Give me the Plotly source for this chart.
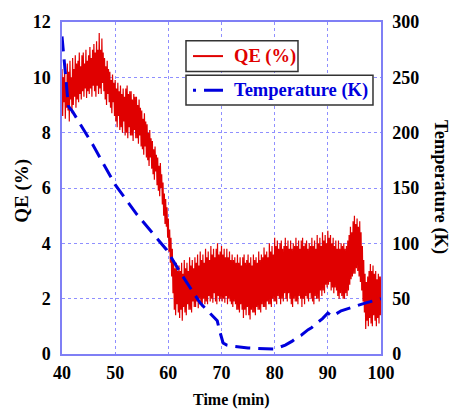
import plotly.graph_objects as go

# ---- data ----
qe_t0 = 40.0
qe_step = 0.125
qe_values = [
    10.3, 8.6, 10.0, 9.1, 10.4, 8.5, 9.8, 8.9,
    10.5, 8.8, 10.2, 8.4, 10.6, 9.2, 10.0, 8.7,
    10.7, 9.0, 10.3, 9.3, 10.8, 8.9, 10.5, 9.2,
    10.6, 9.1, 10.9, 9.4, 10.4, 9.2, 10.8, 9.5,
    10.9, 9.3, 10.5, 9.6, 11.0, 9.25, 10.6, 9.5,
    10.8, 9.4, 11.1, 9.6, 10.7, 9.3, 11.0, 9.7,
    11.2, 9.5, 10.9, 9.3, 11.3, 9.7, 11.0, 9.4,
    11.6, 9.6, 11.0, 9.4, 11.4, 9.8, 10.9, 9.5,
    10.7, 9.2, 10.4, 9.0, 10.6, 9.4, 10.3, 9.1,
    10.2, 8.9, 9.9, 8.7, 10.1, 9.1, 9.8, 8.6,
    9.9, 8.4, 9.6, 8.2, 9.8, 8.6, 9.5, 8.1,
    9.7, 8.2, 9.4, 8.0, 9.6, 8.4, 9.3, 7.9,
    9.6, 8.0, 9.7, 7.8, 9.4, 8.2, 9.5, 7.9,
    9.5, 7.9, 9.2, 7.7, 9.4, 8.1, 9.3, 7.8,
    9.3, 7.8, 9.0, 7.6, 9.2, 7.9, 8.9, 7.5,
    8.8, 7.4, 8.5, 7.2, 8.7, 7.5, 8.4, 7.1,
    8.3, 7.0, 8.0, 6.8, 8.1, 7.1, 7.8, 6.7,
    7.7, 6.5, 7.4, 6.3, 7.5, 6.6, 7.2, 6.1,
    7.1, 5.9, 6.8, 5.7, 6.9, 6.0, 6.5, 5.4,
    6.2, 5.0, 5.8, 4.7, 5.6, 4.6, 5.3, 4.2,
    4.9, 3.7, 4.5, 3.3, 4.2, 2.8, 3.8, 2.2,
    3.4, 1.6, 3.1, 1.4, 3.3, 1.8, 3.0, 1.5,
    3.2, 1.3, 3.0, 1.6, 3.3, 1.2, 2.9, 1.7,
    3.4, 1.5, 3.1, 1.4, 3.3, 1.8, 3.0, 1.6,
    3.5, 1.6, 3.2, 1.5, 3.4, 1.9, 3.1, 1.7,
    3.5, 1.7, 3.3, 1.9, 3.6, 1.65, 3.2, 2.0,
    3.7, 1.8, 3.4, 1.7, 3.6, 2.0, 3.3, 1.8,
    3.8, 1.9, 3.5, 1.8, 3.7, 2.1, 3.4, 1.9,
    3.9, 2.0, 3.6, 1.85, 3.8, 2.2, 3.5, 1.9,
    3.8, 1.8, 4.0, 2.1, 3.6, 1.9, 3.7, 2.0,
    3.9, 1.9, 3.6, 2.0, 3.8, 1.85, 3.5, 2.1,
    3.8, 1.8, 3.5, 2.0, 3.7, 1.9, 3.4, 1.8,
    3.6, 1.7, 3.4, 1.9, 3.5, 1.8, 3.3, 1.6,
    3.6, 1.6, 3.3, 1.5, 3.5, 1.8, 3.2, 1.6,
    3.5, 1.3, 3.6, 1.6, 3.3, 1.4, 3.4, 1.7,
    3.6, 1.4, 3.3, 1.25, 3.5, 1.6, 3.2, 1.5,
    3.6, 1.5, 3.4, 1.4, 3.5, 1.7, 3.3, 1.6,
    3.7, 1.6, 3.4, 1.5, 3.6, 1.8, 3.5, 1.7,
    3.85, 1.7, 3.6, 1.6, 3.7, 1.9, 3.5, 1.8,
    4.0, 1.8, 3.7, 1.7, 3.9, 2.0, 3.6, 1.9,
    4.2, 1.9, 3.9, 1.8, 4.1, 2.1, 3.8, 2.0,
    4.0, 1.8, 4.1, 2.0, 3.8, 1.9, 3.9, 2.2,
    4.2, 2.0, 3.9, 1.9, 4.1, 2.2, 3.8, 2.0,
    4.1, 1.8, 3.8, 1.7, 4.0, 2.0, 3.9, 1.9,
    4.2, 1.9, 3.9, 1.8, 4.1, 2.1, 3.8, 2.0,
    4.1, 1.7, 4.2, 2.0, 3.9, 1.8, 4.0, 2.1,
    4.1, 2.0, 3.8, 1.9, 4.0, 2.2, 3.9, 2.0,
    4.2, 1.9, 3.9, 1.8, 4.1, 2.1, 3.8, 2.0,
    4.3, 2.0, 4.0, 1.9, 4.2, 2.3, 3.9, 2.1,
    4.4, 2.3, 4.1, 2.2, 4.3, 2.5, 4.0, 2.4,
    4.45, 2.5, 4.2, 2.6, 4.3, 2.3, 4.0, 2.4,
    4.2, 2.2, 3.9, 2.4, 4.1, 2.3, 3.8, 2.1,
    4.1, 2.0, 3.8, 2.2, 4.0, 2.1, 3.9, 2.0,
    4.0, 2.0, 3.8, 2.2, 3.9, 2.1, 4.1, 2.3,
    4.3, 2.5, 4.6, 2.7, 4.4, 2.8, 4.8, 2.9,
    5.0, 2.9, 4.7, 3.1, 4.9, 3.0, 4.6, 2.8,
    4.8, 2.6, 4.4, 2.3, 3.9, 1.9, 3.4, 1.5,
    2.9, 0.9, 2.6, 1.2, 2.8, 1.0, 3.0, 1.3,
    3.25, 1.1, 3.0, 1.0, 3.2, 1.4, 2.9, 1.2,
    3.0, 1.0, 2.7, 1.3, 2.9, 1.1, 2.8, 1.4,
    2.8,
]
qe_time = [qe_t0 + i * qe_step for i in range(len(qe_values))]

temp_time = [40, 40.6, 41.2, 42, 45.8, 50, 54.1, 59.7, 62.2, 66, 68.4, 69.2,
             69.7, 70.3, 71, 72, 75, 78, 80, 82, 83.3, 84.5, 85, 86.3, 87,
             88.2, 89, 90, 90.8, 92.5, 95, 97, 100]
temp_values = [287, 255, 224, 219, 189, 153, 126, 94, 74, 46, 34, 30,
               20, 10, 8, 7, 5.4, 4.5, 4.5, 8, 11.6, 16, 17, 22, 24,
               29, 32, 37, 34, 39, 43, 46, 50]

x_ticks = [40, 50, 60, 70, 80, 90, 100]
qe_ticks = [0, 2, 4, 6, 8, 10, 12]
temp_ticks = [0, 50, 100, 150, 200, 250, 300]
series_names = ["QE (%)", "Temperature (K)"]

RED = "#e00000"
BLUE = "#0000dd"
FRAME = "#7f7ff5"
GRID = "#8f8fff"
FONT = "Liberation Serif"

fig = go.Figure()
fig.add_trace(go.Scatter(
    x=qe_time, y=qe_values, mode="lines", name=series_names[0],
    line=dict(color=RED, width=1.2),
))
fig.add_trace(go.Scatter(
    x=temp_time, y=temp_values, mode="lines", name=series_names[1],
    line=dict(color=BLUE, width=3, dash="15px,8px"), yaxis="y2",
))

tickfont = dict(family=FONT, size=18, color="black", weight="bold")

# legend drawn as two separate framed boxes (as in the reference)
legend_shapes = [
    dict(type="rect", xref="paper", yref="paper", x0=0.3887, x1=0.7398, y0=0.8512, y1=0.9435,
         line=dict(color="#333333", width=1.5), fillcolor="white", layer="above"),
    dict(type="line", xref="paper", yref="paper", x0=0.4107, x1=0.5047, y0=0.8973, y1=0.8973,
         line=dict(color=RED, width=2), layer="above"),
    dict(type="rect", xref="paper", yref="paper", x0=0.3887, x1=0.9749, y0=0.75, y1=0.8393,
         line=dict(color="#333333", width=1.5), fillcolor="white", layer="above"),
    dict(type="line", xref="paper", yref="paper", x0=0.4107, x1=0.5047, y0=0.7946, y1=0.7946,
         line=dict(color=BLUE, width=3, dash="3px,8px,20px"), layer="above"),
]

fig.update_layout(
    width=450, height=412,
    margin=dict(l=62, r=69, t=18, b=58),
    paper_bgcolor="white", plot_bgcolor="white",
    showlegend=False,
    xaxis=dict(range=[40, 100], tickvals=x_ticks, ticks="", showline=True, mirror=True,
               linecolor=FRAME, linewidth=1.5, showgrid=True, gridcolor=GRID,
               griddash="dot", gridwidth=1, zeroline=False, tickfont=tickfont,
               ticklabelstandoff=2),
    yaxis=dict(range=[0, 12], tickvals=qe_ticks, ticks="", showline=True, mirror=True,
               linecolor=FRAME, linewidth=1.5, showgrid=True, gridcolor=GRID,
               griddash="dot", gridwidth=1, zeroline=False, tickfont=tickfont,
               ticklabelstandoff=6),
    yaxis2=dict(range=[0, 300], tickvals=temp_ticks, ticks="", overlaying="y", side="right",
                showline=True, linecolor=FRAME, linewidth=1.5, showgrid=False,
                zeroline=False, tickfont=tickfont, ticklabelstandoff=6),
    shapes=legend_shapes,
    annotations=[
        dict(text=series_names[0], xref="paper", yref="paper", x=0.5329, y=0.8973,
             xanchor="left", yanchor="middle", showarrow=False,
             font=dict(family=FONT, size=18.5, color=RED, weight="bold")),
        dict(text=series_names[1], xref="paper", yref="paper", x=0.5329, y=0.7946,
             xanchor="left", yanchor="middle", showarrow=False,
             font=dict(family=FONT, size=18.5, color=BLUE, weight="bold")),
        dict(text="Time (min)", xref="paper", yref="paper", x=0.53, y=-0.14,
             xanchor="center", yanchor="middle", showarrow=False,
             font=dict(family=FONT, size=16, color="black", weight="bold")),
        dict(text="QE (%)", xref="paper", yref="paper", x=-0.126, y=0.491,
             xanchor="center", yanchor="middle", showarrow=False, textangle=-90,
             font=dict(family=FONT, size=19, color="black", weight="bold")),
        dict(text="Temperature (K)", xref="paper", yref="paper", x=1.188, y=0.503,
             xanchor="center", yanchor="middle", showarrow=False, textangle=90,
             font=dict(family=FONT, size=18.5, color="black", weight="bold")),
    ],
)

fig.write_html("out.html")
